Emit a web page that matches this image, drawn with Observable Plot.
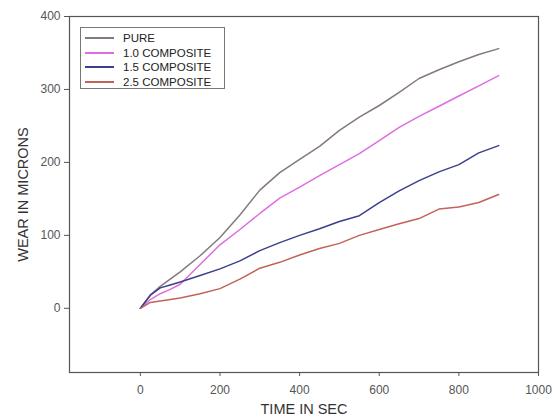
<!DOCTYPE html>
<html><head><meta charset="utf-8">
<script src="https://cdn.jsdelivr.net/npm/d3@7"></script>
<script src="https://cdn.jsdelivr.net/npm/@observablehq/plot@0.6"></script>
<style>
body{margin:0;background:#fff;}
#wrap{position:relative;width:556px;height:418px;}
#legend{position:absolute;left:80px;top:27px;width:145px;height:62px;border:1px solid #777;background:#fff;font-family:"Liberation Sans",Arial,sans-serif;font-size:11.5px;line-height:12px;color:#222;box-sizing:border-box;}
.row{position:absolute;left:4px;height:13px;display:flex;align-items:center;}
.row span{line-height:12px;display:block;}
.sw{width:29px;height:0;border-top:2px solid;margin-right:9px;}
</style></head>
<body><div id="wrap"><div id="chart"></div><div id="legend"></div></div>
<script>
const time = [0,25,50,75,100,150,200,250,300,350,400,450,500,550,600,650,700,750,800,850,900];
const pure = [0,18,30,40,50,72,97,128,162,186,204,222,244,262,278,296,315,327,338,348,356];
const comp10 = [0,12,20,26,33,60,87,108,130,151,166,182,197,212,230,248,263,277,291,305,319];
const comp15 = [0,18,28,32,36,45,54,65,79,90,100,109,119,127,145,161,175,187,197,213,223];
const comp25 = [0,8,10,12,14,20,27,40,55,63,73,82,89,100,108,116,123,136,139,145,156];
const seriesNames = ["PURE","1.0 COMPOSITE","1.5 COMPOSITE","2.5 COMPOSITE"];
const seriesColors = ["#85797a","#dd6ee0","#3b3f8c","#c2625a"];
const xTicks = [0,200,400,600,800,1000];
const yTicks = [0,100,200,300,400];

const allVals = [pure,comp10,comp15,comp25];
const data = [];
allVals.forEach((vals,i)=>vals.forEach((v,j)=>data.push({t:time[j],w:v,s:seriesNames[i]})));

const chart = Plot.plot({
  width:556, height:418,
  marginLeft:69, marginRight:18, marginTop:16, marginBottom:46,
  style:{fontFamily:"'Liberation Sans',Arial,sans-serif",fontSize:"12px",color:"#555",background:"#fff"},
  x:{domain:[-178,1000]},
  y:{domain:[-88,400]},
  color:{domain:seriesNames,range:seriesColors},
  marks:[
    Plot.frame({stroke:"#555",strokeWidth:1.2}),
    Plot.axisX({ticks:xTicks,tickFormat:d=>String(d),tickSize:4,tickPadding:9,label:"TIME IN SEC",labelAnchor:"center",labelArrow:"none",labelOffset:41,fontSize:12}),
    Plot.axisY({ticks:yTicks,tickFormat:d=>String(d),tickSize:5,tickPadding:4,label:"WEAR IN MICRONS",labelAnchor:"center",labelArrow:"none",labelOffset:52,fontSize:12}),
    Plot.line(data,{x:"t",y:"w",stroke:"s",z:"s",strokeWidth:1.5})
  ]
});
chart.querySelectorAll("g[aria-label='x-axis label'] text, g[aria-label='y-axis label'] text").forEach(t=>{t.style.fontSize="14.5px";t.style.fill="#333";});
document.getElementById("chart").appendChild(chart);

const lg = document.getElementById("legend");
seriesNames.forEach((n,i)=>{
  const r=document.createElement("div");r.className="row";r.style.top=(3.5+i*14.5)+"px";
  const s=document.createElement("div");s.className="sw";s.style.borderColor=seriesColors[i];
  const t=document.createElement("span");t.textContent=n;
  r.appendChild(s);r.appendChild(t);lg.appendChild(r);
});
</script></body></html>
